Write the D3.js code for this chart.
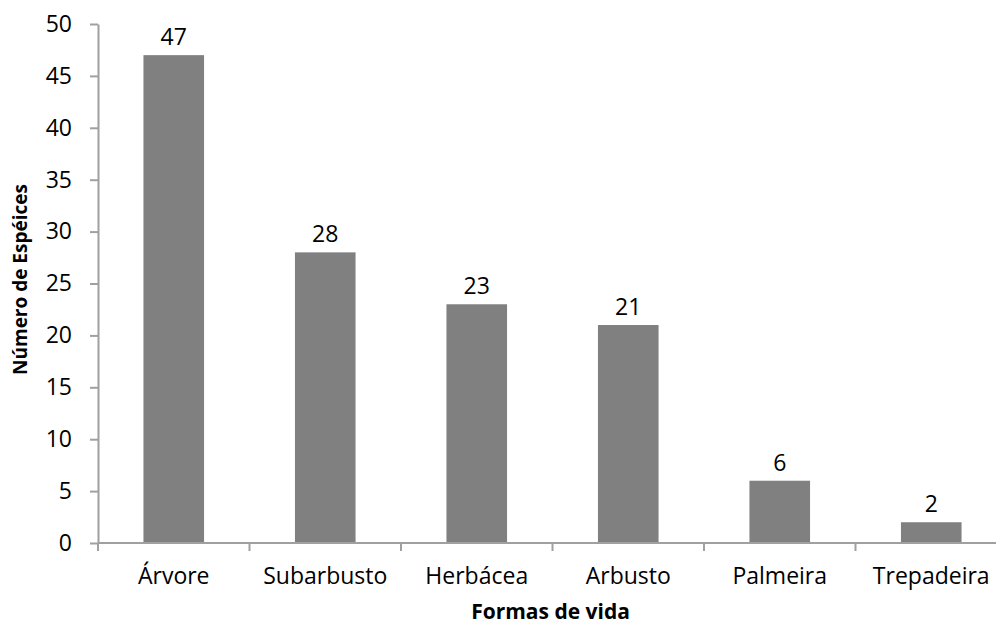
<!DOCTYPE html>
<html>
<head>
<meta charset="utf-8">
<script src="https://cdn.jsdelivr.net/npm/d3@7"></script>
<style>
  body { margin: 0; background: #fff; }
  text { font-family: "Open Sans", sans-serif; fill: #000; }
</style>
</head>
<body>
<svg id="chart" width="996" height="626"></svg>
<script>
// data
var categories = ["Árvore", "Subarbusto", "Herbácea", "Arbusto", "Palmeira", "Trepadeira"];
var especies = [47, 28, 23, 21, 6, 2];
var yTicks = [0, 5, 10, 15, 20, 25, 30, 35, 40, 45, 50];

var svg = d3.select("svg#chart");
var margin = {top: 24, left: 98};
var width = 909, height = 519;
var axisColor = "#a0a0a0";

var x = d3.scaleBand()
    .domain(categories)
    .range([0, width])
    .paddingInner(0.6)
    .paddingOuter(0.3);
var y = d3.scaleLinear()
    .domain([0, 50])
    .range([height, 0]);

var g = svg.append("g")
  .attr("transform", `translate(${margin.left},${margin.top})`);

//yaxis
var yAxis = g.append("g")
  .attr("class", "yaxis")
  .call(d3.axisLeft(y).tickValues(yTicks).tickSize(8).tickPadding(18).tickSizeOuter(0));
yAxis.select(".domain").attr("stroke", axisColor).attr("stroke-width", 2);
yAxis.selectAll(".tick line").attr("stroke", axisColor).attr("stroke-width", 2);
yAxis.selectAll(".tick text")
  .attr("font-size", "23px")
  .attr("font-family", "Open Sans, sans-serif")
  .attr("fill", "#000");

//bars
g.append("g")
  .attr("class", "bars")
  .selectAll("rect")
  .data(especies)
  .enter().append("rect")
  .attr("x", (d, i) => x(categories[i]))
  .attr("y", d => y(d))
  .attr("width", x.bandwidth())
  .attr("height", d => height - y(d))
  .attr("fill", "#808080");

//value labels
g.append("g")
  .attr("class", "labels")
  .selectAll("text")
  .data(especies)
  .enter().append("text")
  .attr("x", (d, i) => x(categories[i]) + x.bandwidth() / 2)
  .attr("y", d => y(d) - 10)
  .attr("text-anchor", "middle")
  .attr("font-size", "23px")
  .text(d => d);

//xaxis
var xAxis = g.append("g")
  .attr("class", "xaxis")
  .attr("transform", `translate(0,${height})`)
  .call(d3.axisBottom(x).tickSize(0).tickPadding(25));
xAxis.select(".domain").remove();
xAxis.selectAll(".tick text")
  .attr("font-size", "23px")
  .attr("font-family", "Open Sans, sans-serif")
  .attr("fill", "#000");
xAxis.append("line")
  .attr("x1", 0).attr("x2", width)
  .attr("stroke", axisColor).attr("stroke-width", 2);
// category separators
xAxis.selectAll("line.sep")
  .data(d3.range(categories.length + 1))
  .enter().append("line")
  .attr("class", "sep")
  .attr("x1", i => i * x.step())
  .attr("x2", i => i * x.step())
  .attr("y1", 0).attr("y2", 8)
  .attr("stroke", axisColor).attr("stroke-width", 2);

//axis titles
g.append("text")
  .attr("x", (x.step() * categories.length) / 2 - 2)
  .attr("y", height + 76)
  .attr("text-anchor", "middle")
  .attr("font-size", "21px")
  .attr("font-weight", "bold")
  .text("Formas de vida");

g.append("text")
  .attr("transform", "rotate(-90)")
  .attr("x", -height / 2 + 4)
  .attr("y", -71)
  .attr("text-anchor", "middle")
  .attr("font-size", "19px")
  .attr("font-weight", "bold")
  .text("Número de Espéices");
</script>
</body>
</html>
